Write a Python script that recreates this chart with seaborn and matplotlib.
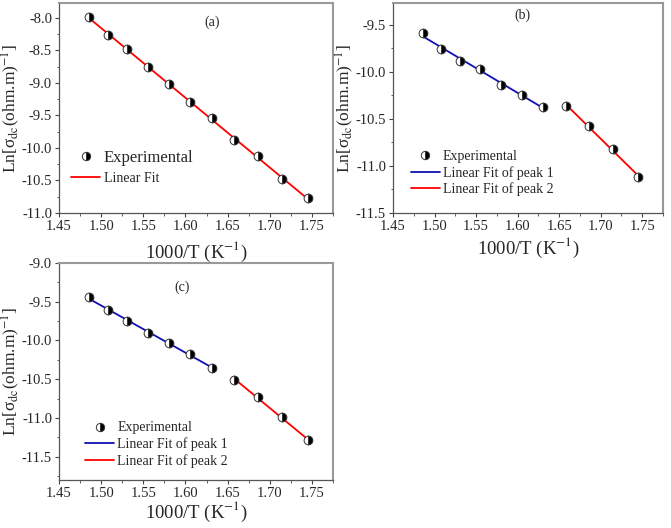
import matplotlib
matplotlib.use("Agg")
import matplotlib.pyplot as plt
from matplotlib.lines import Line2D
from matplotlib.ticker import MultipleLocator, FormatStrFormatter
import pandas as pd
import seaborn as sns

# 1000/T values (K^-1), shared by all three samples
inv_T = [1.486, 1.508, 1.531, 1.555, 1.580, 1.605, 1.631, 1.658, 1.686, 1.715, 1.745]

# ln(sigma_dc)
ln_sigma_a = [-7.98, -8.26, -8.48, -8.76, -9.02, -9.29, -9.54, -9.87, -10.13, -10.48, -10.77]
ln_sigma_b = [-9.59, -9.76, -9.89, -9.97, -10.14, -10.25, -10.37, -10.36, -10.58, -10.82, -11.12]
ln_sigma_c = [-9.44, -9.61, -9.75, -9.90, -10.03, -10.17, -10.35, -10.51, -10.73, -10.99, -11.29]

# first 7 points = peak 1, last 4 = peak 2
n_peak1 = 7

sns.set_theme(style="white")
plt.rcParams["font.family"] = ["Liberation Serif", "DejaVu Serif"]
plt.rcParams["mathtext.fontset"] = "stix"

fig = plt.figure(figsize=(6.71, 5.28), dpi=100)
W, H = 671, 528
# axes boxes in pixels (left, top, right, bottom)
boxes = {
    "a": (59, 3, 333, 213),
    "b": (393, 3, 663, 213),
    "c": (59, 263, 333, 480),
}
axes = {}
for key, (l, t, r, b) in boxes.items():
    axes[key] = fig.add_axes([l / W, 1 - b / H, (r - l) / W, (b - t) / H])


def style_axis(ax, ylim, yticks, xpad):
    ax.set_xlim(1.45, 1.775)
    ax.set_ylim(*ylim)
    ax.set_xticks([1.45, 1.50, 1.55, 1.60, 1.65, 1.70, 1.75])
    ax.set_yticks(yticks)
    ax.xaxis.set_minor_locator(MultipleLocator(0.025))
    ax.yaxis.set_minor_locator(MultipleLocator(0.25))
    ax.xaxis.set_major_formatter(FormatStrFormatter("%.2f"))
    ax.yaxis.set_major_formatter(FormatStrFormatter("%.1f"))
    ax.tick_params(which="major", direction="out", length=3, width=0.8,
                   color="#444444", labelsize=10.5, pad=2,
                   bottom=True, left=True, top=False, right=False)
    ax.tick_params(which="minor", direction="out", length=1.8, width=0.6,
                   color="#444444", bottom=True, left=True, top=False, right=False)
    for side in ["left", "bottom"]:
        ax.spines[side].set_color("#555555")
        ax.spines[side].set_linewidth(0.9)
    for side in ["top", "right"]:
        ax.spines[side].set_color("#999999")
        ax.spines[side].set_linewidth(1.5)
    ax.set_xlabel("1000/T (K$^{-1}$)", fontsize=13.5, labelpad=xpad)
    ax.set_ylabel("Ln[σ$_{\\mathrm{dc}}$(ohm.m)$^{-1}$]", fontsize=12.5)
    # right edge of the y label ~22 px from the figure edge
    ax.yaxis.set_label_coords(-37 / ax.bbox.width * fig.dpi / 100, 0.5)
    ax.grid(False)


def draw_points(ax, x, y):
    ax.plot(x, y, linestyle="none", marker="o", markersize=6.3,
            fillstyle="right", markerfacecolor="black",
            markerfacecoloralt="white", markeredgecolor="#333333",
            markeredgewidth=0.7, zorder=3)


def fit_line(ax, x, y, color):
    df = pd.DataFrame({"x": x, "y": y})
    sns.regplot(data=df, x="x", y="y", ax=ax, scatter=False, ci=None,
                color=color, line_kws={"linewidth": 1.3, "zorder": 2})


exp_handle = Line2D([], [], linestyle="none", marker="o", markersize=6,
                    fillstyle="right", markerfacecolor="black",
                    markerfacecoloralt="white", markeredgecolor="#333333",
                    markeredgewidth=0.7)

# (a)
ax = axes["a"]
fit_line(ax, inv_T, ln_sigma_a, "red")
draw_points(ax, inv_T, ln_sigma_a)
style_axis(ax, (-11.0, -7.77), [-11.0, -10.5, -10.0, -9.5, -9.0, -8.5, -8.0], 5)
ax.text(0.56, 0.91, "(a)", transform=ax.transAxes, fontsize=10, ha="center", va="center")
ax.legend([exp_handle, Line2D([], [], color="red", lw=1.3)],
          ["Experimental", "Linear Fit"],
          loc="lower left", bbox_to_anchor=(-0.01, 0.06), frameon=False,
          handlelength=1.75, handletextpad=0.2, labelspacing=0.3, fontsize=12)
leg = ax.get_legend()
leg.get_texts()[1].set_fontsize(10)

# (b) and (c)
for key, ys, ylim, yticks, tag, tag_xy, anchor, xpad in [
    ("b", ln_sigma_b, (-11.5, -9.27), [-11.5, -11.0, -10.5, -10.0, -9.5], "(b)",
     (0.48, 0.94), (0.02, 0.02), 2),
    ("c", ln_sigma_c, (-11.8, -9.0), [-11.5, -11.0, -10.5, -10.0, -9.5, -9.0], "(c)",
     (0.45, 0.89), (0.05, 0.0), 0),
]:
    ax = axes[key]
    fit_line(ax, inv_T[:n_peak1], ys[:n_peak1], "#1010b0")
    fit_line(ax, inv_T[n_peak1:], ys[n_peak1:], "red")
    draw_points(ax, inv_T, ys)
    style_axis(ax, ylim, yticks, xpad)
    ax.text(*tag_xy, tag, transform=ax.transAxes, fontsize=10, ha="center", va="center")
    ax.legend([exp_handle, Line2D([], [], color="#1010b0", lw=1.3),
               Line2D([], [], color="red", lw=1.3)],
              ["Experimental", "Linear Fit of peak 1", "Linear Fit of peak 2"],
              loc="lower left", bbox_to_anchor=anchor, frameon=False,
              handlelength=2.1, handletextpad=0.2, labelspacing=0.2, fontsize=10)

fig.savefig("out.png", dpi=100)
